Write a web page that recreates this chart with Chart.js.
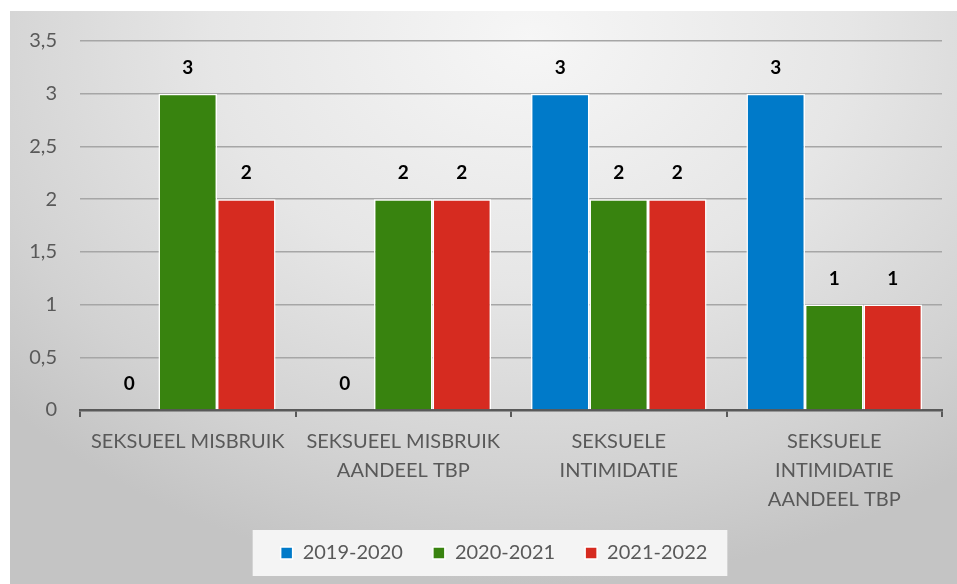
<!DOCTYPE html>
<html><head><meta charset="utf-8">
<script src="https://cdn.jsdelivr.net/npm/chart.js@4.4.1/dist/chart.umd.min.js"></script>
<style>
html,body{margin:0;padding:0;background:#fff;overflow:hidden;}
#wrap{position:relative;width:957px;height:584px;background:#fff;}
#panel{position:absolute;left:10px;top:11px;width:947px;height:573px;
background:radial-gradient(ellipse 75% 95% at 55% 5%, #f6f6f6 0%, #e6e6e6 45%, #d2d2d2 80%, #c4c4c4 100%);}
canvas{position:absolute;left:0;top:0;}
</style></head>
<body><div id="wrap"><div id="panel"></div><canvas id="c" width="957" height="584" style="width:957px;height:584px"></canvas></div>
<script>
const categories = [
  ["SEKSUEEL MISBRUIK"],
  ["SEKSUEEL MISBRUIK", "AANDEEL TBP"],
  ["SEKSUELE", "INTIMIDATIE"],
  ["SEKSUELE", "INTIMIDATIE", "AANDEEL TBP"]
];
const seriesNames = ["2019-2020", "2020-2021", "2021-2022"];
const values2019_2020 = [0, 0, 3, 3];
const values2020_2021 = [3, 2, 2, 1];
const values2021_2022 = [2, 2, 2, 1];
const seriesColors = ["#007ac9", "#38830f", "#d62b20"];
const yMax = 3.5;
const yStep = 0.5;

const FONT = "Lato, 'Open Sans', sans-serif";
const TXT = "#595959";

// nudge the legend so it sits where the reference puts it
const legendShiftPlugin = {
  id: 'legendShift',
  afterLayout(chart) {
    const l = chart.legend;
    if (!l) return;
    l.left += 23; l.right += 23;
    l.top -= 8; l.bottom -= 8;
  }
};

const legendBoxPlugin = {
  id: 'legendBox',
  beforeDraw(chart) {
    const hb = chart.legend && chart.legend.legendHitBoxes;
    if (!hb || !hb.length) return;
    const first = hb[0], last = hb[hb.length - 1];
    const ctx = chart.ctx;
    ctx.save();
    ctx.fillStyle = '#f4f4f4';
    const cy = first.top + first.height / 2;
    const x0 = first.left - 28, x1 = last.left + last.width + 20;
    ctx.fillRect(x0, cy - 23, x1 - x0, 46);
    ctx.restore();
  }
};

const dataLabelPlugin = {
  id: 'dataLabels',
  afterDatasetsDraw(chart) {
    const ctx = chart.ctx;
    ctx.save();
    ctx.font = "bold 19px " + FONT;
    ctx.fillStyle = '#000';
    ctx.textAlign = 'center';
    ctx.textBaseline = 'middle';
    chart.data.datasets.forEach((ds, i) => {
      const meta = chart.getDatasetMeta(i);
      meta.data.forEach((el, j) => {
        ctx.fillText(String(ds.data[j]), el.x, el.y - 26);
      });
    });
    ctx.restore();
  }
};

const allSeries = [values2019_2020, values2020_2021, values2021_2022];

new Chart(document.getElementById('c'), {
  type: 'bar',
  data: {
    labels: categories,
    datasets: allSeries.map((vals, i) => ({
      label: seriesNames[i],
      data: vals,
      backgroundColor: seriesColors[i],
      borderColor: '#ffffff',
      borderWidth: 1.5,
      categoryPercentage: 0.815,
      barPercentage: 1.0
    }))
  },
  options: {
    responsive: false,
    animation: false,
    devicePixelRatio: 1,
    layout: { padding: { top: 41, right: 15, left: 0, bottom: 3 } },
    plugins: {
      legend: {
        position: 'bottom',
        labels: {
          boxWidth: 12, boxHeight: 12, padding: 30,
          color: TXT,
          font: { family: FONT, size: 20 }
        }
      },
      tooltip: { enabled: false }
    },
    scales: {
      x: {
        grid: { offset: true, drawOnChartArea: false, drawTicks: true, tickLength: 7, color: '#595959', lineWidth: 2 },
        border: { display: true, color: '#595959', width: 2.5 },
        ticks: { color: TXT, padding: 10, maxRotation: 0, autoSkip: false, font: { family: FONT, size: 20, lineHeight: 1.45 } },
        afterFit(scale) { scale.height = 111; }
      },
      y: {
        min: 0, max: yMax,
        grid: { color: '#a6a6a6', lineWidth: 1.5, drawTicks: false },
        border: { display: false },
        ticks: {
          stepSize: yStep, padding: 23, color: TXT,
          font: { family: FONT, size: 20 },
          callback: (v) => String(v).replace('.', ',')
        },
        afterFit(scale) { scale.width = 80; }
      }
    }
  },
  plugins: [legendShiftPlugin, legendBoxPlugin, dataLabelPlugin]
});
</script>
</body></html>
